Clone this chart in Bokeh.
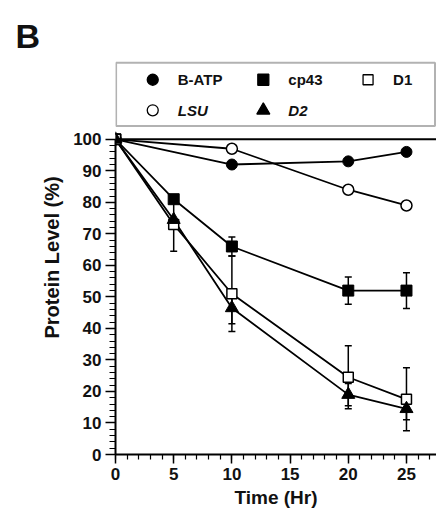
from bokeh.plotting import figure
from bokeh.models import Range1d, FixedTicker, Span, BoxAnnotation, Whisker, ColumnDataSource, TeeHead
from bokeh.embed import file_html
from bokeh.resources import INLINE
from bokeh.core.properties import value

# ---- data ----
time_sparse = [0, 10, 20, 25]
time_full = [0, 5, 10, 20, 25]
batp = [100, 92, 93, 96]
lsu = [100, 97, 84, 79]
cp43 = [100, 81, 66, 52, 52]
cp43_err = [0, 0, 3, 4.3, 5.7]
d1 = [100, 73, 51, 24.5, 17.5]
d1_err = [0, 8.5, 12, 10, 10]
d2 = [100, 74.5, 46.5, 19, 14.5]
d2_err = [0, 0, 5, 3.5, 3.5]
x_ticks = [0, 5, 10, 15, 20, 25]
y_ticks = [0, 10, 20, 30, 40, 50, 60, 70, 80, 90, 100]
legend_labels = ["B-ATP", "cp43", "D1", "LSU", "D2"]

FONT = "Liberation Sans"
X_END = 27.58
Y_END = 125

p = figure(width=436, height=510, output_backend="svg", toolbar_location=None,
           x_range=Range1d(0, X_END), y_range=Range1d(0, Y_END),
           min_border_left=115, min_border_right=0, min_border_top=60, min_border_bottom=53)
p.outline_line_color = None
p.xgrid.visible = False
p.ygrid.visible = False
p.background_fill_color = "white"
p.border_fill_color = "white"

# panel letter as title
p.title.text = "B"
p.title.align = "left"
p.title.vertical_align = "bottom"
p.title.offset = -100
p.title.standoff = 12
p.title.text_line_height = 0.7
p.title.text_font = FONT
p.title.text_font_style = "bold"
p.title.text_font_size = "34px"
p.title.text_color = "#111111"

# axes
p.xaxis.ticker = FixedTicker(ticks=x_ticks, minor_ticks=list(range(0, 28)))
p.yaxis.ticker = FixedTicker(ticks=y_ticks, minor_ticks=list(range(0, 101, 2)))
p.yaxis.bounds = (0, 100)
p.xaxis.axis_label = "Time (Hr)"
p.yaxis.axis_label = "Protein Level (%)"
for ax in (p.xaxis, p.yaxis):
    ax.axis_line_width = 2
    ax.axis_line_color = "black"
    ax.major_tick_line_width = 1.5
    ax.minor_tick_line_width = 1.2
    ax.major_tick_line_color = "black"
    ax.minor_tick_line_color = "black"
    ax.major_tick_in = 0
    ax.minor_tick_in = 0
    ax.major_label_text_font = FONT
    ax.major_label_text_font_style = "bold"
    ax.major_label_text_font_size = "17px"
    ax.major_label_text_color = "#111111"
    ax.axis_label_text_font = FONT
    ax.axis_label_text_font_style = "bold"
    ax.axis_label_text_color = "#111111"
p.xaxis.axis_label_text_font_size = "19px"
p.yaxis.axis_label_text_font_size = "20px"
p.yaxis.major_tick_out = 10
p.yaxis.minor_tick_out = 6
p.xaxis.major_tick_out = 9
p.xaxis.minor_tick_out = 5
p.yaxis.major_label_standoff = 4
p.xaxis.major_label_standoff = 4
p.yaxis.axis_label_standoff = 7
p.xaxis.axis_label_standoff = 4

# top frame line at 100
p.add_layout(Span(location=100, dimension="width", line_color="black", line_width=2))

LW = 1.8
# lines
p.line(time_sparse, batp, line_color="black", line_width=LW)
p.line(time_sparse, lsu, line_color="black", line_width=LW)
p.line(time_full, cp43, line_color="black", line_width=LW)
p.line(time_full, d1, line_color="black", line_width=LW)
p.line(time_full, d2, line_color="black", line_width=LW)

# error bars
for vals, errs in ((cp43, cp43_err), (d1, d1_err), (d2, d2_err)):
    xs = [t for t, e in zip(time_full, errs) if e > 0]
    lo = [v - e for v, e in zip(vals, errs) if e > 0]
    hi = [v + e for v, e in zip(vals, errs) if e > 0]
    src = ColumnDataSource(dict(x=xs, lower=lo, upper=hi))
    p.add_layout(Whisker(source=src, base="x", lower="lower", upper="upper",
                         line_color="black", line_width=1.5,
                         upper_head=TeeHead(size=7, line_width=1.5, line_color="black"),
                         lower_head=TeeHead(size=7, line_width=1.5, line_color="black")))

# markers
p.scatter(time_sparse, batp, marker="circle", size=11, fill_color="black", line_color="black")
p.scatter(time_sparse, lsu, marker="circle", size=11, fill_color="white", line_color="black", line_width=1.5)
p.scatter(time_full, cp43, marker="square", size=11, fill_color="black", line_color="black")
p.scatter(time_full, d1, marker="square", size=10, fill_color="white", line_color="black", line_width=1.5)
p.scatter(time_full, d2, marker="triangle", size=13, fill_color="black", line_color="black")

# legend box (drawn by hand to allow the mixed font styles)
p.add_layout(BoxAnnotation(left=0.05, right=27.45, bottom=104.2, top=124.3,
                           fill_color=None, fill_alpha=0, line_color="black", line_width=2))
col_x = [3.2, 12.7, 21.7]
row_y = [118.9, 109.2]
lab_dx = 2.15
specs = [  # (col, row, marker, fill, italic)
    (0, 0, "circle", "black", False),
    (1, 0, "square", "black", False),
    (2, 0, "square", "white", False),
    (0, 1, "circle", "white", True),
    (1, 1, "triangle", "black", True),
]
for label, (c, r, mk, fill, ital) in zip(legend_labels, specs):
    size = 13 if mk == "triangle" else (10 if mk == "square" and fill == "white" else 11)
    p.scatter([col_x[c]], [row_y[r]], marker=mk, size=size, fill_color=fill,
              line_color="black", line_width=1.3)
    p.text([col_x[c] + lab_dx], [row_y[r]], text=[label], text_font=value(FONT),
           text_font_style="bold italic" if ital else "bold", text_font_size="15px",
           text_baseline="middle", text_align="left", text_color="#111111")

open("out.html", "w").write(file_html(p, INLINE))
